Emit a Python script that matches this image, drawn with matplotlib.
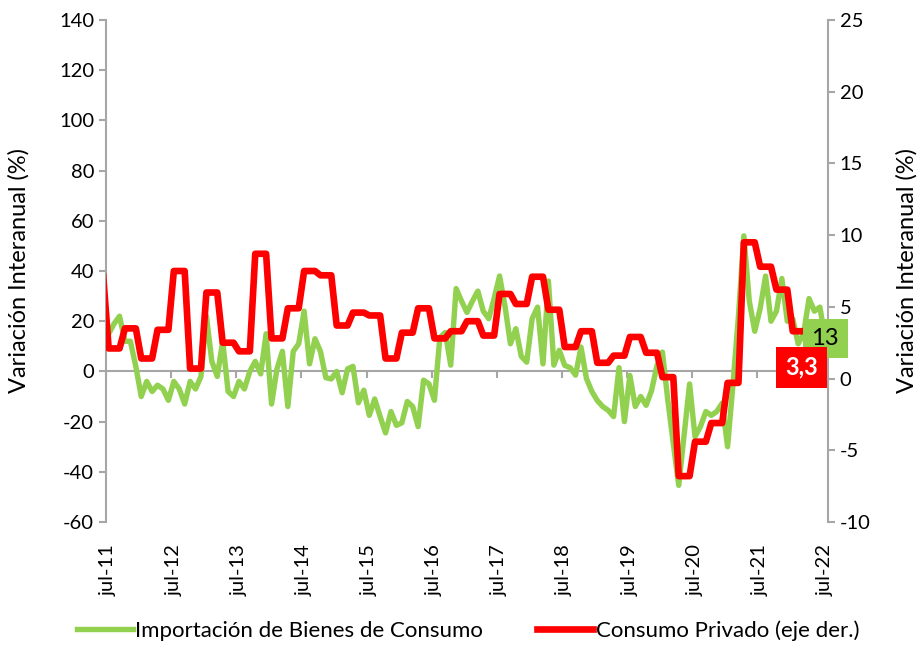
import numpy as np
import pandas as pd
import matplotlib
matplotlib.use('Agg')
import matplotlib.pyplot as plt

plt.rcParams['font.family'] = ['Lato', 'DejaVu Sans']
plt.rcParams['axes.unicode_minus'] = False

# Importación de bienes de consumo, variación interanual mensual (jul-11 a jul-22)
importaciones = [
    15, 19, 22, 12, 12, 2, -10, -4, -8, -5.5, -7, -11.5,
    -4, -7, -13, -4, -7, -2, 22, 4, -2, 12, -8, -10,
    -4, -7, 0, 4, -1, 15, -13, 1, 8, -14, 8, 11,
    24, 3, 13, 8, -2.5, -3, 0, -8.5, 1, 2, -12.5, -7.5,
    -17.5, -11, -18, -24.5, -16, -21.5, -20.5, -12, -14, -22, -3.5, -5,
    -11.5, 13.5, 15.5, 2.5, 33, 28, 23.5, 28, 32, 24, 21, 29,
    38, 26, 11, 17, 6, 3.7, 21, 25.6, 3, 36, 2.5, 8.4,
    2.4, 1.5, -1.5, 9.7, -2.8, -8, -11.6, -14, -15.5, -18, 1.5, -20,
    -1.6, -14, -10, -13.5, -7.6, 2.4, 7.7, -11.6, -28.7, -45.4, -25, -5,
    -26, -22, -16, -17.5, -16, -12.7, -30, -5, 22, 54, 28, 16,
    25, 38, 20, 24, 37, 20, 21, 11, 15, 29, 24, 25.6,
    13,
]

# Consumo privado, variación interanual trimestral (2T-11 a 1T-22), eje derecho
trimestres = pd.period_range('2011Q2', '2022Q1', freq='Q')
consumo_trim = [
    7.1, 2.1, 3.5,
    1.4, 3.4, 7.5, 0.7,
    6.0, 2.5, 1.9, 8.7,
    2.8, 4.9, 7.5, 7.2,
    3.7, 4.6, 4.4, 1.4,
    3.2, 4.9, 2.8, 3.3,
    4.0, 3.0, 5.9, 5.2,
    7.1, 4.8, 2.2, 3.3,
    1.1, 1.6, 2.9, 1.8,
    0.1, -6.8, -4.4, -3.1,
    -0.3, 9.5, 7.8, 6.2,
    3.3,
]

etiquetas_x = ['jul-11', 'jul-12', 'jul-13', 'jul-14', 'jul-15', 'jul-16',
               'jul-17', 'jul-18', 'jul-19', 'jul-20', 'jul-21', 'jul-22']

verde = '#92D050'
rojo = '#FF0000'
gris = '#A6A6A6'

# posiciones mensuales (0 = jul-11)
x_imp = np.arange(len(importaciones))
serie_consumo = pd.Series(consumo_trim, index=trimestres)
fechas_cons = pd.date_range('2011-06-01', '2022-03-01', freq='MS')
y_cons = serie_consumo.loc[fechas_cons.to_period('Q')].values
x_cons = (fechas_cons.year - 2011) * 12 + fechas_cons.month - 7

fig, ax = plt.subplots(figsize=(9.19, 6.45), dpi=100)
fig.subplots_adjust(left=0.1153, right=0.901, top=0.969, bottom=0.1907)

ax.axhline(0, color=gris, lw=1.5, zorder=1)
ax.vlines(np.arange(-0.5, 133, 12), -2.8, 0, color=gris, lw=1.5, zorder=1)
l1, = ax.plot(x_imp, importaciones, color=verde, lw=3.9, zorder=3,
              solid_joinstyle='round', label='Importación de Bienes de Consumo')

ax2 = ax.twinx()
l2, = ax2.plot(x_cons, y_cons, color=rojo, lw=4.8, zorder=3,
               solid_joinstyle='round', label='Consumo Privado (eje der.)')

ax.set_xlim(-0.5, 132.5)
ax.set_ylim(-60, 140)
ax2.set_ylim(-10, 25)
ax.set_yticks(range(-60, 141, 20))
ax2.set_yticks(range(-10, 26, 5))

for a in (ax, ax2):
    a.spines['top'].set_visible(False)
    a.spines['bottom'].set_visible(False)
ax.spines['right'].set_visible(False)
ax2.spines['left'].set_visible(False)
ax.spines['left'].set_color(gris)
ax2.spines['right'].set_color(gris)
ax.spines['left'].set_linewidth(1.5)
ax2.spines['right'].set_linewidth(1.5)

ax.tick_params(axis='y', direction='out', length=5, width=1.5, color=gris, labelsize=14.5)
ax2.tick_params(axis='y', direction='out', length=5, width=1.5, color=gris, labelsize=14.5)
ax.set_xticks(np.arange(0, 133, 12))
ax.set_xticklabels(etiquetas_x, rotation=90, fontsize=14.5)
ax.tick_params(axis='x', length=0, pad=16)

ax.set_ylabel('Variación Interanual (%)', fontsize=17, labelpad=21)
ax2.set_ylabel('Variación Interanual (%)', fontsize=17, labelpad=18)

# etiquetas del último dato
ax2.annotate(f'{importaciones[-1]:.0f}', xy=(x_imp[-1], importaciones[-1]),
             xycoords=ax.transData, ha='center', va='center', fontsize=17,
             color='black', zorder=5,
             bbox=dict(boxstyle='square,pad=0.38', fc=verde, ec='none'))
ax2.annotate(f'{consumo_trim[-1]:.1f}'.replace('.', ','), xy=(x_cons[-1], y_cons[-1]),
             xytext=(-2, -36), textcoords='offset pixels', ha='center', va='center',
             fontsize=17, fontweight='bold', color='white', zorder=5,
             bbox=dict(boxstyle='square,pad=0.38', fc=rojo, ec='none'))

fig.legend([l1, l2], [l1.get_label(), l2.get_label()], loc='lower center',
           bbox_to_anchor=(0.509, -0.025), ncol=2, frameon=False, fontsize=16,
           handlelength=2.55, handletextpad=0.1, columnspacing=2.4)

fig.savefig('out.png', dpi=100)
